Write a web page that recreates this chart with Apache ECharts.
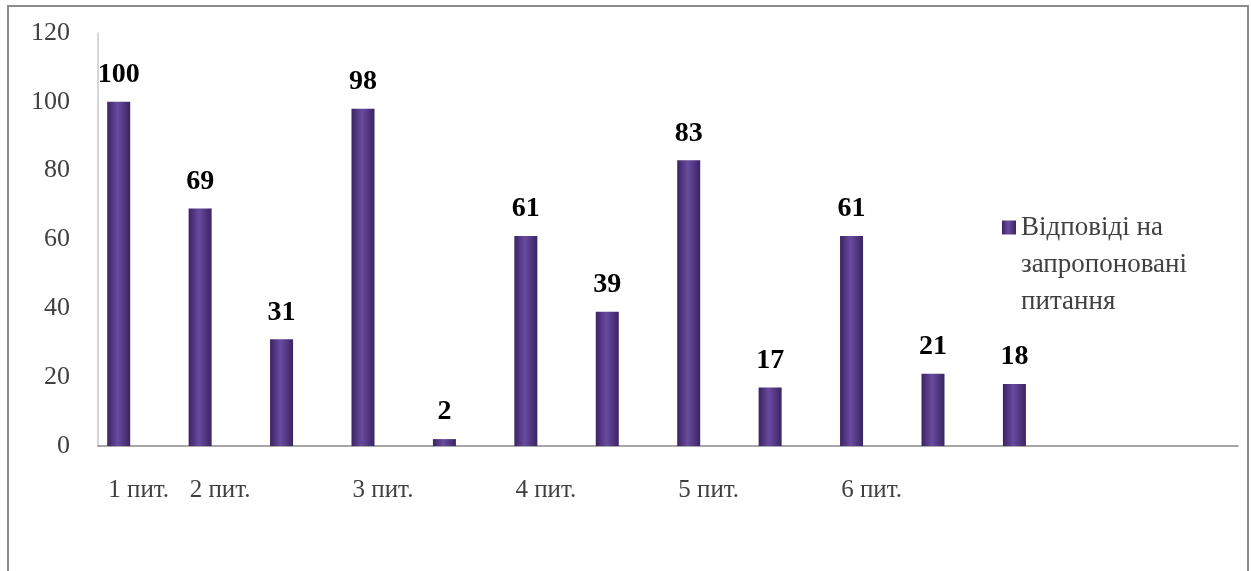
<!DOCTYPE html>
<html>
<head>
<meta charset="utf-8">
<script src="https://cdn.jsdelivr.net/npm/echarts@6/dist/echarts.min.js"></script>
<style>
  html, body { margin: 0; padding: 0; background: #fff; }
  #chart { width: 1251px; height: 571px; }
  /* рамка навколо діаграми */
  #frame {
    position: absolute; left: 7px; top: 5px; width: 1238px; height: 620px;
    border: 2px solid #8a8a8a; pointer-events: none;
  }
</style>
</head>
<body>
<div id="chart"></div>
<div id="frame"></div>
<script>
// категорії (14 позицій, останні дві порожні)
const categories = ['c1','c2','c3','c4','c5','c6','c7','c8','c9','c10','c11','c12','c13','c14'];
// підписи осі X
const tickLabels = ['1 пит.','2 пит.','','3 пит.','','4 пит.','','5 пит.','','6 пит.','','','',''];
// значення
const answers = [100, 69, 31, 98, 2, 61, 39, 83, 17, 61, 21, 18, null, null];
const seriesName = 'Відповіді на запропоновані питання';

const serif = 'Liberation Serif';
const barColor = new echarts.graphic.LinearGradient(0, 0, 1, 0, [
  { offset: 0, color: '#3a2463' },
  { offset: 0.45, color: '#6a4a9f' },
  { offset: 1, color: '#3a2463' }
]);

const chart = echarts.init(document.getElementById('chart'));
chart.setOption({
  animation: false,
  textStyle: { fontFamily: serif },
  grid: { left: 98, right: 13, top: 33, bottom: 125 },
  legend: {
    data: [seriesName],
    left: 1002,
    top: 135,
    padding: 0,
    itemWidth: 14,
    itemHeight: 14,
    icon: 'rect',
    // порожній рядок зверху, щоб значок стояв біля першого рядка
    formatter: () => '{gap| }\n{t|Відповіді на}\n{t|запропоновані}\n{t|питання}',
    textStyle: {
      fontFamily: serif, fontSize: 27, color: '#404040', lineHeight: 37,
      rich: {
        gap: { height: 74, lineHeight: 74, fontSize: 10 },
        t: { fontFamily: serif, fontSize: 27, color: '#404040', lineHeight: 37 }
      }
    }
  },
  xAxis: {
    type: 'category',
    data: categories,
    axisLine: { lineStyle: { color: '#8a8a8a', width: 1.5 } },
    axisTick: { show: false },
    axisLabel: {
      interval: 0,
      margin: 32,
      fontFamily: serif, fontSize: 25, color: '#404040',
      formatter: (v, i) => tickLabels[i]
    }
  },
  yAxis: {
    type: 'value',
    min: 0, max: 120, interval: 20,
    axisLine: { show: true, lineStyle: { color: '#c8c8c8', width: 1.5 } },
    axisTick: { show: false },
    splitLine: { show: false },
    axisLabel: { margin: 28, fontFamily: serif, fontSize: 26, color: '#404040' }
  },
  series: [
    {
      name: seriesName,
      type: 'bar',
      data: answers,
      barWidth: 23,
      barGap: '74%',
      itemStyle: { color: barColor },
      label: {
        show: true, position: 'top', distance: 13,
        fontFamily: serif, fontSize: 28, fontWeight: 'bold', color: '#000'
      }
    },
    {
      // порожня серія, щоб стовпчики стояли лівіше центру категорії
      name: 'пусто',
      type: 'bar',
      data: categories.map(() => null),
      barWidth: 23
    }
  ]
});
</script>
</body>
</html>
